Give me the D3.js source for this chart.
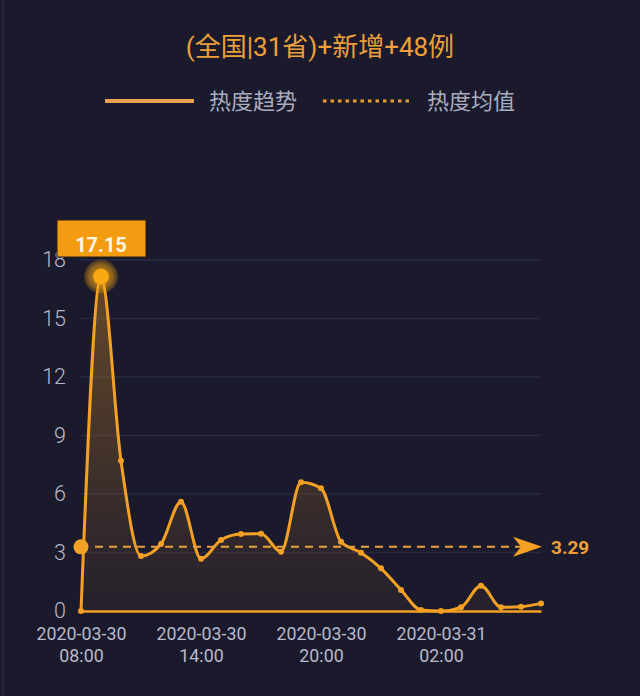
<!DOCTYPE html>
<html><head><meta charset="utf-8">
<script src="https://cdn.jsdelivr.net/npm/d3@7"></script>
<style>
html,body{margin:0;padding:0;background:#1b1a2c;}
svg{display:block;}
</style></head>
<body>
<svg id="chart" width="640" height="696"></svg>
<script>
// ---- data ----
const titleText = "(全国|31省)+新增+48例";
const seriesNames = ["热度趋势", "热度均值"];
const times = [
  "2020-03-30 08:00","2020-03-30 09:00","2020-03-30 10:00","2020-03-30 11:00",
  "2020-03-30 12:00","2020-03-30 13:00","2020-03-30 14:00","2020-03-30 15:00",
  "2020-03-30 16:00","2020-03-30 17:00","2020-03-30 18:00","2020-03-30 19:00",
  "2020-03-30 20:00","2020-03-30 21:00","2020-03-30 22:00","2020-03-30 23:00",
  "2020-03-31 00:00","2020-03-31 01:00","2020-03-31 02:00","2020-03-31 03:00",
  "2020-03-31 04:00","2020-03-31 05:00","2020-03-31 06:00","2020-03-31 07:00"
];
const heat = [0, 17.15, 7.7, 2.82, 3.44, 5.6, 2.68, 3.64, 3.95, 3.96, 3.04, 6.6,
  6.29, 3.55, 2.99, 2.19, 1.08, 0.05, 0, 0.19, 1.3, 0.19, 0.22, 0.39];
const meanValue = 3.29;
const yTicks = [0, 3, 6, 9, 12, 15, 18];
const xTicks = ["2020-03-30 08:00","2020-03-30 14:00","2020-03-30 20:00","2020-03-31 02:00"];

// ---- setup ----
const parse = d3.timeParse("%Y-%m-%d %H:%M");
const data = times.map((t, i) => ({t: parse(t), v: heat[i]}));
const W = 640, H = 696;
const orange = "#f3a024";
const gray = "#b6b9cb";
const svg = d3.select("#chart");

svg.append("rect").attr("width", W).attr("height", H).attr("fill", "#1b1a2c");
svg.append("line").attr("x1", 3).attr("x2", 3).attr("y1", 0).attr("y2", H)
  .attr("stroke", "#24233a").attr("stroke-width", 2);

const x = d3.scaleTime().domain(d3.extent(data, d => d.t)).range([81, 541]);
const y = d3.scaleLinear().domain([0, 18]).range([611, 260]);

// defs
const defs = svg.append("defs");
const grad = defs.append("linearGradient").attr("id", "areaGrad")
  .attr("x1", 0).attr("y1", 0).attr("x2", 0).attr("y2", 1);
grad.append("stop").attr("offset", "0%").attr("stop-color", orange).attr("stop-opacity", 0.34);
grad.append("stop").attr("offset", "100%").attr("stop-color", orange).attr("stop-opacity", 0.04);
const glow = defs.append("radialGradient").attr("id", "glow");
glow.append("stop").attr("offset", "0%").attr("stop-color", "#f7a812").attr("stop-opacity", 0.85);
glow.append("stop").attr("offset", "70%").attr("stop-color", "#f7a812").attr("stop-opacity", 0.5);
glow.append("stop").attr("offset", "100%").attr("stop-color", "#f7a812").attr("stop-opacity", 0.15);

// title
svg.append("text").attr("x", 320).attr("y", 56).attr("text-anchor", "middle")
  .attr("font-family", "Roboto, 'Noto Sans CJK SC', sans-serif").attr("font-size", 26)
  .attr("fill", "#eda03a").text(titleText);

// legend
const lg = svg.append("g").attr("font-family", "'Noto Sans CJK SC', sans-serif").attr("font-size", 22).attr("fill", "#a9adc0");
lg.append("line").attr("x1", 105).attr("x2", 194).attr("y1", 101).attr("y2", 101)
  .attr("stroke", "#e9a050").attr("stroke-width", 4);
lg.append("text").attr("x", 209).attr("y", 109).text(seriesNames[0]);
lg.append("line").attr("x1", 323).attr("x2", 412).attr("y1", 101).attr("y2", 101)
  .attr("stroke", "#e8a030").attr("stroke-width", 3).attr("stroke-dasharray", "3.5,4");
lg.append("text").attr("x", 427).attr("y", 109).text(seriesNames[1]);

// grid lines
svg.append("g").selectAll("line").data(yTicks.filter(d => d > 0)).join("line")
  .attr("x1", 81).attr("x2", 541).attr("y1", d => y(d)).attr("y2", d => y(d))
  .attr("stroke", "#29283f").attr("stroke-width", 1.5);

// y axis labels
const yAxis = svg.append("g").attr("transform", "translate(66,0)")
  .call(d3.axisLeft(y).tickValues(yTicks).tickSize(0).tickPadding(0));
yAxis.select(".domain").remove();
yAxis.selectAll("text").attr("font-family", "Roboto, sans-serif").attr("font-size", 21.5)
  .attr("font-weight", 300).attr("fill", gray);

// x axis
const xAxis = svg.append("g").attr("transform", "translate(0,611)")
  .call(d3.axisBottom(x).tickValues(xTicks.map(parse)).tickSize(0).tickFormat(() => ""));
xAxis.select(".domain").attr("stroke", orange).attr("stroke-width", 2.5);
xAxis.selectAll(".tick").each(function(d) {
  const g = d3.select(this);
  g.select("text").remove();
  const t = g.append("text").attr("text-anchor", "middle").attr("font-family", "Roboto, sans-serif")
    .attr("font-size", 17.8).attr("fill", gray);
  t.append("tspan").attr("x", 0).attr("y", 29).text(d3.timeFormat("%Y-%m-%d")(d));
  t.append("tspan").attr("x", 0).attr("y", 51).text(d3.timeFormat("%H:%M")(d));
});

// area & line
const curve = d3.curveMonotoneX;
svg.append("path").datum(data).attr("fill", "url(#areaGrad)")
  .attr("d", d3.area().x(d => x(d.t)).y0(y(0)).y1(d => y(d.v)).curve(curve));
svg.append("path").datum(data).attr("fill", "none").attr("stroke", orange).attr("stroke-width", 3)
  .attr("stroke-linejoin", "round")
  .attr("d", d3.line().x(d => x(d.t)).y(d => y(d.v)).curve(curve));
svg.append("g").selectAll("circle").data(data).join("circle")
  .attr("cx", d => x(d.t)).attr("cy", d => y(d.v)).attr("r", 3).attr("fill", orange);

// mean line
const ym = y(meanValue);
svg.append("line").attr("x1", 95).attr("x2", 522).attr("y1", ym).attr("y2", ym)
  .attr("stroke", "#e8a040").attr("stroke-width", 2).attr("stroke-dasharray", "8,6");
svg.append("circle").attr("cx", x(data[0].t)).attr("cy", ym).attr("r", 7.5).attr("fill", orange);
const tipX = x(data[data.length - 1].t) + 1;
svg.append("path").attr("fill", orange)
  .attr("d", `M${tipX},${ym} L${tipX - 29},${ym - 10} L${tipX - 21},${ym} L${tipX - 29},${ym + 10} Z`);
svg.append("text").attr("x", 551).attr("y", ym + 7).attr("font-family", "Roboto, sans-serif")
  .attr("font-size", 19).attr("font-weight", 700).attr("fill", "#eda03a").text(meanValue.toFixed(2));

// peak marker
const peak = data.reduce((a, b) => (b.v > a.v ? b : a));
const px = x(peak.t), py = y(peak.v);
svg.append("circle").attr("cx", px).attr("cy", py).attr("r", 17).attr("fill", "url(#glow)");
svg.append("circle").attr("cx", px).attr("cy", py).attr("r", 8).attr("fill", "#f7a812");
svg.append("rect").attr("x", px - 44).attr("y", 220).attr("width", 89).attr("height", 37)
  .attr("fill", "#f39c12").attr("stroke", "#2a1f14").attr("stroke-width", 1);
svg.append("text").attr("x", px).attr("y", 252).attr("text-anchor", "middle")
  .attr("font-family", "Roboto, sans-serif").attr("font-size", 20).attr("font-weight", 700)
  .attr("fill", "#fff6e6").text(peak.v.toFixed(2));
</script>
</body></html>
